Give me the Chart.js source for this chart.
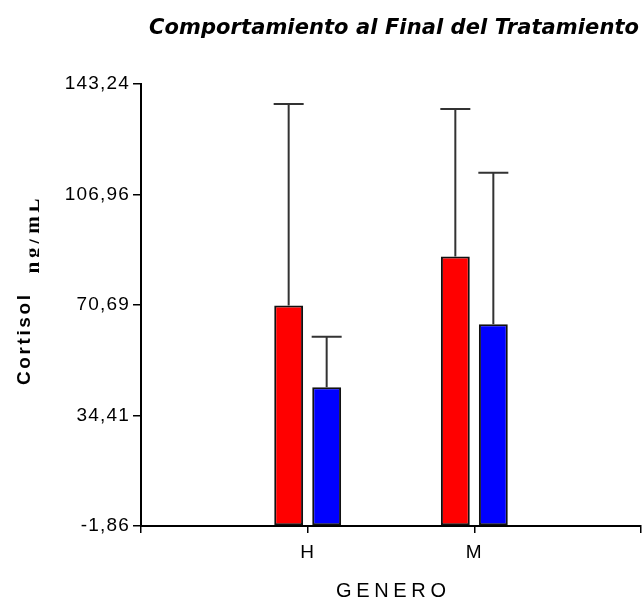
<!DOCTYPE html>
<html lang="es">
<head>
<meta charset="utf-8">
<title>Comportamiento al Final del Tratamiento</title>
<script src="https://cdn.jsdelivr.net/npm/chart.js@4/dist/chart.umd.min.js"></script>
<style>
  html, body { margin: 0; padding: 0; background: #fff; }
  #wrap { width: 644px; height: 602px; }
</style>
</head>
<body>
<div id="wrap"><canvas id="grafico" width="644" height="602"></canvas></div>
<script>
// Cortisol al final del tratamiento, por género (media + DE)
const categorias = ['H', 'M'];
const mediaGrupoA = [70.5, 86.6];
const mediaGrupoB = [43.7, 64.4];
const deGrupoA = [66.2, 48.4];
const deGrupoB = [16.6, 49.7];
const marcasEjeY = [-1.86, 34.41, 70.69, 106.96, 143.24];

const tituloGrafico = 'Comportamiento al Final del Tratamiento';
const tituloEjeX = 'GENERO';
const tituloEjeY = 'Cortisol';
const unidadEjeY = 'ng/mL';

const aPuntos = (vals) => vals.map((v, i) => ({ x: i + 1, y: v }));
const formatoDecimal = (v) => v.toFixed(2).replace('.', ',');

// Draws text spread to a given width using canvas letter spacing
function textoAjustado(ctx, texto, x, y, anchoObjetivo, fuente, rotacion) {
  ctx.save();
  ctx.font = fuente;
  ctx.letterSpacing = '0px';
  const base = ctx.measureText(texto).width;
  const esp = (anchoObjetivo - base) / Math.max(1, texto.length - 1);
  ctx.letterSpacing = esp + 'px';
  ctx.translate(x, y);
  if (rotacion) ctx.rotate(rotacion);
  ctx.textAlign = 'left';
  ctx.fillStyle = '#000';
  ctx.fillText(texto, -anchoObjetivo / 2, 0);
  ctx.restore();
}

// Spacing for the axis tick labels
const espaciadoTicks = {
  id: 'espaciadoTicks',
  beforeUpdate(chart) { chart.ctx.letterSpacing = '1.2px'; },
  beforeDraw(chart) { chart.ctx.letterSpacing = '1.2px'; }
};

// Upper standard-deviation whiskers
const barrasError = {
  id: 'barrasError',
  afterDatasetsDraw(chart) {
    const ctx = chart.ctx;
    const ys = chart.scales.y;
    const errores = [deGrupoA, deGrupoB];
    ctx.save();
    ctx.strokeStyle = '#333';
    ctx.lineWidth = 2;
    chart.data.datasets.forEach((ds, di) => {
      const meta = chart.getDatasetMeta(di);
      meta.data.forEach((el, i) => {
        const valor = ds.data[i].y + errores[di][i];
        const yTop = ys.getPixelForValue(valor);
        ctx.beginPath();
        ctx.moveTo(el.x, el.y);
        ctx.lineTo(el.x, yTop);
        ctx.moveTo(el.x - 15, yTop);
        ctx.lineTo(el.x + 15, yTop);
        ctx.stroke();
      });
    });
    ctx.restore();
  }
};

// Title and axis titles
const rotulos = {
  id: 'rotulos',
  afterDraw(chart) {
    const ctx = chart.ctx;
    const area = chart.chartArea;
    textoAjustado(ctx, tituloGrafico, 394, 34, 490, 'bold italic 21px "DejaVu Sans"', 0);
    textoAjustado(ctx, tituloEjeX, (area.left + area.right) / 2, 597, 110, '20px "Liberation Sans"', 0);
    textoAjustado(ctx, tituloEjeY, 30, 340, 90, 'bold 19px "Liberation Sans"', -Math.PI / 2);
    ctx.save();
    ctx.beginPath();
    ctx.rect(29.5, 190, 9.5, 100);
    ctx.clip();
    textoAjustado(ctx, unidadEjeY, 39, 236, 75, 'bold 21px "Liberation Serif"', -Math.PI / 2);
    ctx.restore();
  }
};

new Chart(document.getElementById('grafico'), {
  type: 'bar',
  data: {
    datasets: [
      {
        label: 'Grupo A',
        data: aPuntos(mediaGrupoA),
        backgroundColor: '#ff0000',
        borderColor: '#111',
        borderWidth: 2,
        borderSkipped: false,
        base: marcasEjeY[0]
      },
      {
        label: 'Grupo B',
        data: aPuntos(mediaGrupoB),
        backgroundColor: '#0000ff',
        borderColor: '#111',
        borderWidth: 2,
        borderSkipped: false,
        base: marcasEjeY[0]
      }
    ]
  },
  options: {
    responsive: false,
    animation: false,
    devicePixelRatio: 1,
    categoryPercentage: 0.456,
    barPercentage: 0.76,
    layout: { padding: { left: 0, top: 84, right: 0, bottom: 0 } },
    plugins: {
      legend: { display: false },
      title: { display: false },
      tooltip: { enabled: false }
    },
    scales: {
      x: {
        type: 'linear',
        offset: false,
        min: 0,
        max: categorias.length + 1,
        afterBuildTicks(scale) {
          const t = [];
          for (let v = 0; v <= categorias.length + 1; v++) t.push({ value: v });
          scale.ticks = t;
        },
        afterFit(scale) {
          scale.height = 76;
          scale.paddingLeft = 0;
          scale.paddingRight = 3;
        },
        grid: {
          display: true,
          offset: false,
          drawOnChartArea: false,
          drawTicks: true,
          tickLength: 7,
          color: '#000',
          lineWidth: 1.5
        },
        border: { display: true, color: '#000', width: 2 },
        ticks: {
          autoSkip: false,
          maxRotation: 0,
          padding: 8,
          color: '#000',
          font: { family: '"Liberation Sans"', size: 19 },
          callback: (v) => (v >= 1 && v <= categorias.length) ? categorias[v - 1] : ''
        }
      },
      y: {
        min: marcasEjeY[0],
        max: marcasEjeY[marcasEjeY.length - 1],
        afterBuildTicks(scale) {
          scale.ticks = marcasEjeY.map((v) => ({ value: v }));
        },
        afterFit(scale) { scale.width = 141; },
        grid: {
          display: true,
          drawOnChartArea: false,
          drawTicks: true,
          tickLength: 8,
          color: '#000',
          lineWidth: 1.5
        },
        border: { display: true, color: '#000', width: 2 },
        ticks: {
          autoSkip: false,
          padding: 3,
          color: '#000',
          font: { family: '"Liberation Sans"', size: 19 },
          callback: (v) => formatoDecimal(v)
        }
      }
    }
  },
  plugins: [espaciadoTicks, barrasError, rotulos]
});
</script>
</body>
</html>
